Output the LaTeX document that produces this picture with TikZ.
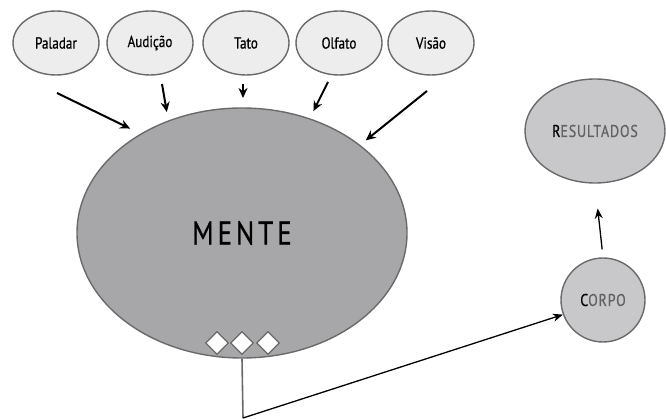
\documentclass[tikz,border=0pt]{standalone}
\usepackage{fontspec}
\setmainfont[FakeStretch=0.82,FakeBold=0.7]{PT Sans}
\usepackage{tikz}
\usetikzlibrary{arrows.meta,positioning,shapes.geometric}
\definecolor{sensefill}{HTML}{EDEDED}
\definecolor{mentefill}{HTML}{A7A7A9}
\definecolor{lightfill}{HTML}{C8C8CA}
\definecolor{rim}{HTML}{6A6A6A}
\definecolor{softtext}{HTML}{626264}
\tikzset{
  post/.style={->,shorten >=1pt,>={Stealth[length=10pt,width=9pt]},line width=2pt},
  thin post/.style={->,>={Stealth[length=10pt,width=8pt]},line width=1.3pt},
}

\begin{document}
\begin{tikzpicture}[x=1pt,y=-1pt,
        sense/.style={ellipse, draw=rim, line width=1.4pt, fill=sensefill,
        minimum width=86pt, minimum height=64pt, inner sep=0pt, font={\fontsize{16}{18}\selectfont}},
        mind/.style={ellipse, draw=rim, line width=1.4pt, fill=mentefill,
        minimum width=330pt, minimum height=250pt, inner sep=0pt},
        outcome/.style={ellipse, draw=rim, line width=1.4pt, fill=lightfill,
        minimum width=140pt, minimum height=104pt, inner sep=0pt},
        body/.style={circle, draw=rim, line width=1.4pt, fill=lightfill,
        minimum size=84pt, inner sep=0pt},
        gem/.style={diamond, draw=rim, line width=1.3pt, fill=white,
        minimum width=23pt, minimum height=23pt, inner sep=0pt}
        ]
    \useasboundingbox (0,0) rectangle (666,419);

    \node[sense] (paladar) at (56,43) {Paladar};
    \node[sense] (audicao) at (150,43) {Audição};
    \node[sense] (tato) at (246,43) {Tato};
    \node[sense] (olfato) at (339,43) {Olfato};
    \node[sense] (visao) at (431,43) {Visão};

    \node[mind] (mente) at (242,233) {\fontsize{33}{35}\selectfont\addfontfeatures{LetterSpace=12}MENTE};
    \node[outcome] (resultados) at (595,131)
        {\fontsize{17}{19}\selectfont\addfontfeatures{LetterSpace=5}R\textcolor{softtext}{ESULTADOS}};
    \node[body] (corpo) at (603,300)
        {\fontsize{17}{19}\selectfont\addfontfeatures{LetterSpace=5}C\textcolor{softtext}{ORPO}};

    \node[gem] (g1) at (217,343) {};
    \node[gem] (g2) at (242,343) {};
    \node[gem] (g3) at (268,343) {};

    % sense arrows
    \coordinate (p1) at (57,93);   \coordinate (p2) at (131,129);
    \coordinate (a1) at (162,84);  \coordinate (a2) at (167,113);
    \coordinate (t1) at (243,84);  \coordinate (t2) at (243,99);
    \coordinate (o1) at (328,82);  \coordinate (o2) at (313,112);
    \coordinate (v1) at (427,91);  \coordinate (v2) at (365,141);
    \draw[post] (p1) -- (p2);
    \draw[post] (a1) -- (a2);
    \draw[post] (t1) -- (t2);
    \draw[post] (o1) -- (o2);
    \draw[post] (v1) -- (v2);

    \coordinate (knee) at (243,418);
    \draw[rim, line width=1.6pt] (mente.south) -- (knee);
    \draw[thin post] (knee) -- (corpo.200);
    \draw[thin post, shorten <=8pt, shorten >=25pt] (corpo.north) -- (resultados.south);

  \end{tikzpicture}
\end{document}
